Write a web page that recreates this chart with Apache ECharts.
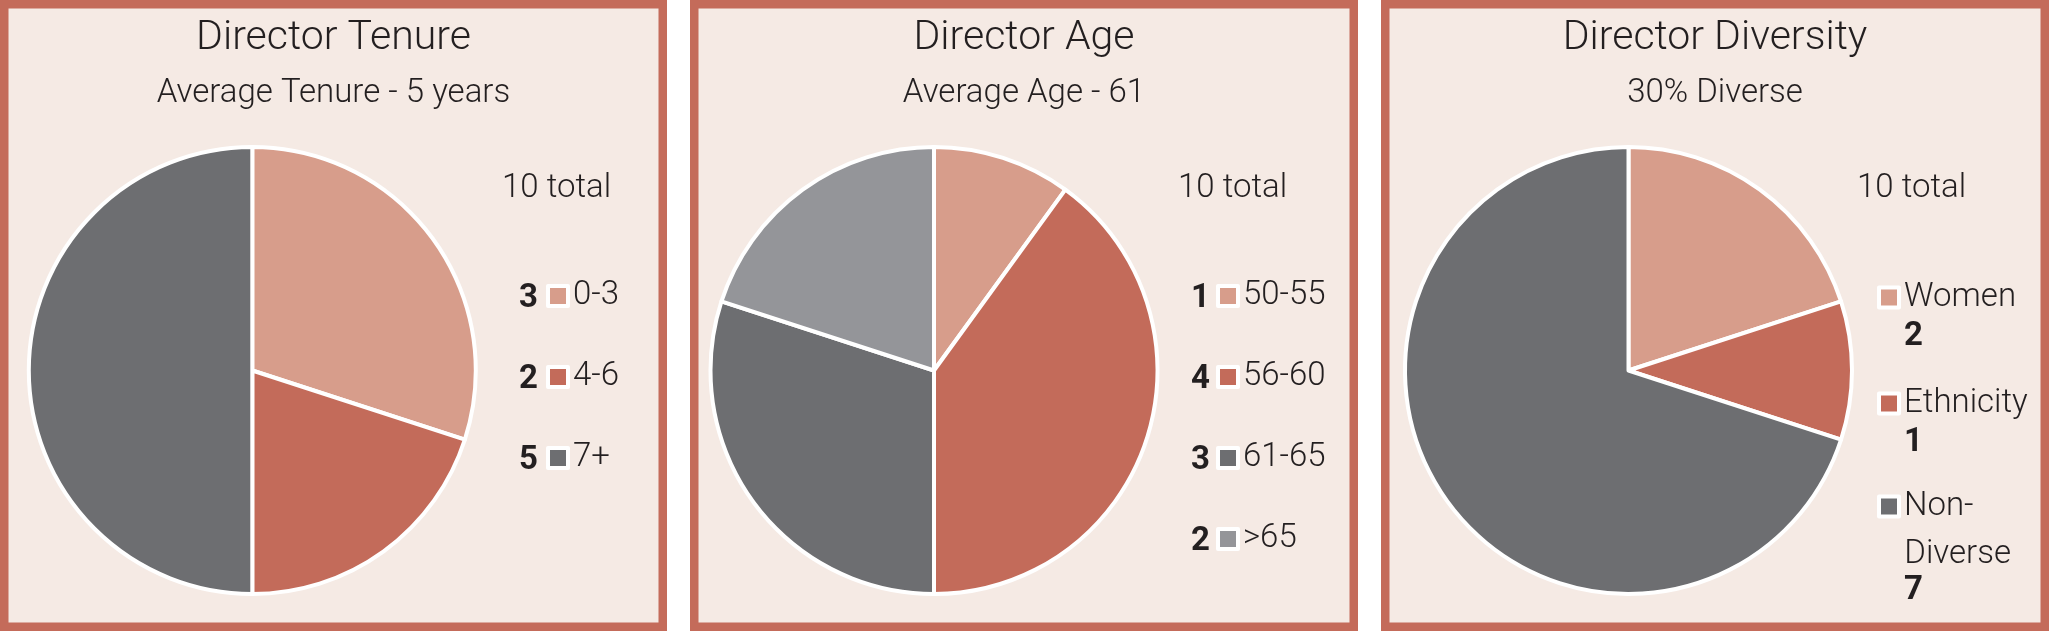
<!DOCTYPE html>
<html><head><meta charset="utf-8">
<script src="https://cdn.jsdelivr.net/npm/echarts@6/dist/echarts.min.js"></script>
<style>html,body{margin:0;padding:0;background:#fff}#c{width:2049px;height:631px}</style>
</head><body><div id="c"></div>
<script>
// ---- data ----
const panelTitles = ['Director Tenure', 'Director Age', 'Director Diversity'];
const panelSubtitles = ['Average Tenure - 5 years', 'Average Age - 61', '30% Diverse'];
const tenureCategories = ['0-3', '4-6', '7+'];
const tenureValues = [3, 2, 5];
const ageCategories = ['50-55', '56-60', '61-65', '>65'];
const ageValues = [1, 4, 3, 2];
const diversityCategories = ['Women', 'Ethnicity', 'Non-Diverse'];
const diversityValues = [2, 1, 7];

// ---- styles / layout ----
const FONT = 'Roboto';
const TXT = '#231f20';
const SALMON = '#d79d8b', RED = '#c36b5a', DARK = '#6d6e71', LIGHT = '#949599';
const BORDER = '#c46b5a', PANEL_BG = '#f5eae4';
const panels = [{x: 0, w: 667}, {x: 690, w: 668}, {x: 1381, w: 668}];
const pieCx = [252.3, 934, 1628.5];
const pieCy = 370.5, pieR = 223.5;
const rowStep = 81;

const sets = [
  {cats: tenureCategories, vals: tenureValues, colors: [SALMON, RED, DARK]},
  {cats: ageCategories, vals: ageValues, colors: [SALMON, RED, DARK, LIGHT]},
  {cats: diversityCategories, vals: diversityValues, colors: [SALMON, RED, DARK]}
];

const chart = echarts.init(document.getElementById('c'), null, {renderer: 'canvas'});

const graphics = [];
panels.forEach(p => {
  graphics.push({type: 'rect', z: 0, silent: true,
    shape: {x: p.x + 4.25, y: 4.25, width: p.w - 8.5, height: 631 - 8.5},
    style: {fill: PANEL_BG, stroke: BORDER, lineWidth: 8.5}});
});
// totals
const totalX = [502, 1178, 1857];
sets.forEach((s, i) => {
  const sum = s.vals.reduce((a, b) => a + b, 0);
  graphics.push({type: 'text', z: 10, silent: true, x: totalX[i], y: 189,
    style: {text: sum + ' total', font: '300 33px ' + FONT, fill: TXT, align: 'left', verticalAlign: 'middle'}});
});
// bold counts before legend icons (panels 1 & 2)
const countRight = [538, 1210];
[0, 1].forEach(i => {
  sets[i].vals.forEach((v, k) => {
    graphics.push({type: 'text', z: 10, silent: true, x: countRight[i], y: 299 + k * rowStep,
      style: {text: String(v), font: 'bold 33px ' + FONT, fill: TXT, align: 'right', verticalAlign: 'middle'}});
  });
});

const baseLegend = {
  orient: 'vertical', padding: 0, itemWidth: 20, itemHeight: 20, icon: 'rect',
  selectedMode: false,
  itemStyle: {borderColor: '#fff', borderWidth: 4},
  textStyle: {fontFamily: FONT, fontWeight: 300, fontSize: 33, color: TXT}
};
const legends = [
  Object.assign({}, baseLegend, {left: 546, top: 279.5, itemGap: rowStep - 33, data: tenureCategories}),
  Object.assign({}, baseLegend, {left: 1216, top: 279.5, itemGap: rowStep - 33, data: ageCategories})
];
// diversity legend: one item per component, name + bold count below
const LH = 39, LH_WRAP = 45;
const divIconY = [295, 401, 504];
diversityCategories.forEach((name, k) => {
  const lines = name.replace(/-(?=\S)/, '-\n').split('\n');
  const contentH = LH + (lines.length - 1) * LH_WRAP + LH;
  legends.push({
    orient: 'vertical', padding: 0, itemWidth: 20, itemHeight: 20, icon: 'rect', selectedMode: false,
    left: 1877, top: divIconY[k] - 14,
    data: [name],
    itemStyle: {borderColor: '#fff', borderWidth: 4},
    formatter: nm => lines.map((l, j) => j === 0 ? '{n|' + l + '}' : '{sp| }{nb|' + l + '}').join('\n')
      + '\n{v|' + diversityValues[k] + '}',
    textStyle: {
      padding: [contentH - LH, 0, 0, 0],
      rich: {
        n: {fontFamily: FONT, fontWeight: 300, fontSize: 33, lineHeight: LH, color: TXT},
        sp: {fontSize: 1, lineHeight: LH_WRAP},
        nb: {fontFamily: FONT, fontWeight: 300, fontSize: 33, lineHeight: LH, verticalAlign: 'bottom', color: TXT},
        v: {fontFamily: FONT, fontWeight: 'bold', fontSize: 33, lineHeight: LH, color: TXT}
      }
    }
  });
});

const titles = panels.map((p, i) => ({
  text: panelTitles[i], subtext: panelSubtitles[i],
  left: p.x + p.w / 2, top: 18, textAlign: 'center', padding: 0, itemGap: 18.5,
  textStyle: {fontFamily: FONT, fontWeight: 300, fontSize: 41, lineHeight: 41, color: TXT},
  subtextStyle: {fontFamily: FONT, fontWeight: 300, fontSize: 33, lineHeight: 33, color: TXT}
}));

const series = sets.map((s, i) => ({
  type: 'pie', center: [pieCx[i], pieCy], radius: pieR,
  startAngle: 90, clockwise: true, silent: true,
  label: {show: false}, labelLine: {show: false},
  itemStyle: {borderColor: '#fff', borderWidth: 4},
  emphasis: {disabled: true},
  data: s.cats.map((c, k) => ({name: c, value: s.vals[k], itemStyle: {color: s.colors[k]}}))
}));

chart.setOption({
  animation: false,
  backgroundColor: '#ffffff',
  title: titles,
  legend: legends,
  graphic: graphics,
  series: series
});
</script></body></html>
